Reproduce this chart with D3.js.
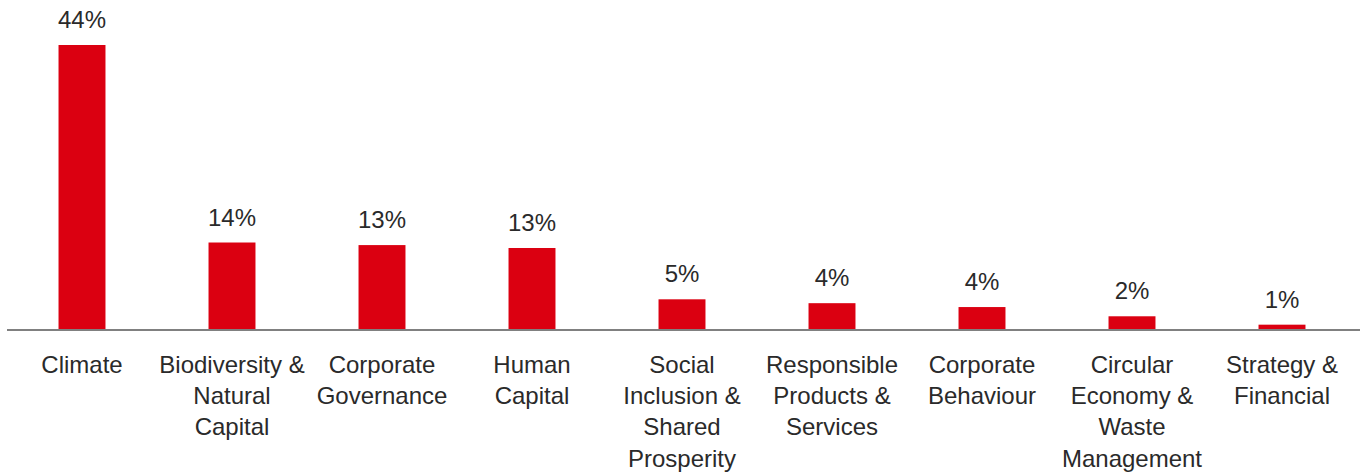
<!DOCTYPE html>
<html>
<head>
<meta charset="utf-8">
<script src="https://cdn.jsdelivr.net/npm/d3@7"></script>
<style>
  html, body { margin: 0; padding: 0; background: #fff; }
  svg { display: block; }
</style>
</head>
<body>
<div id="chart"></div>
<script>
const categories = [
  "Climate",
  "Biodiversity & Natural Capital",
  "Corporate Governance",
  "Human Capital",
  "Social Inclusion & Shared Prosperity",
  "Responsible Products & Services",
  "Corporate Behaviour",
  "Circular Economy & Waste Management",
  "Strategy & Financial"
];
const categoryLines = [
  ["Climate"],
  ["Biodiversity &", "Natural", "Capital"],
  ["Corporate", "Governance"],
  ["Human", "Capital"],
  ["Social", "Inclusion &", "Shared", "Prosperity"],
  ["Responsible", "Products &", "Services"],
  ["Corporate", "Behaviour"],
  ["Circular", "Economy &", "Waste", "Management"],
  ["Strategy &", "Financial"]
];
const values = [44, 13.4, 13.0, 12.55, 4.6, 4.0, 3.4, 1.97, 0.67];
const valueLabels = ["44%", "14%", "13%", "13%", "5%", "4%", "4%", "2%", "1%"];

const W = 1365, H = 473;
const baseY = 329;
const topY = 45;

const svg = d3.select("#chart").append("svg")
  .attr("width", W).attr("height", H);

const x = d3.scaleBand()
  .domain(categories)
  .range([7, 1357])
  .paddingInner(0.687)
  .paddingOuter(0.3435);

const y = d3.scaleLinear()
  .domain([0, 44])
  .range([baseY, topY]);

const font = "'Liberation Sans', Arial, sans-serif";

svg.selectAll("rect.bar")
  .data(categories)
  .join("rect")
  .attr("class", "bar")
  .attr("x", d => x(d))
  .attr("width", x.bandwidth())
  .attr("y", (d, i) => y(values[i]))
  .attr("height", (d, i) => baseY - y(values[i]))
  .attr("fill", "#DB0011");

// axis line
svg.append("line")
  .attr("x1", 7).attr("x2", 1360)
  .attr("y1", baseY + 1).attr("y2", baseY + 1)
  .attr("stroke", "#808080")
  .attr("stroke-width", 2);

// value labels
svg.selectAll("text.val")
  .data(categories)
  .join("text")
  .attr("class", "val")
  .attr("x", d => x(d) + x.bandwidth() / 2)
  .attr("y", (d, i) => y(values[i]) - 17)
  .attr("text-anchor", "middle")
  .attr("font-family", font)
  .attr("font-size", 24)
  .attr("fill", "#2a2a2a")
  .text((d, i) => valueLabels[i]);

// category labels
const cat = svg.selectAll("text.cat")
  .data(categories)
  .join("text")
  .attr("class", "cat")
  .attr("text-anchor", "middle")
  .attr("font-family", font)
  .attr("font-size", 24)
  .attr("fill", "#2a2a2a");

cat.each(function(d, i) {
  const t = d3.select(this);
  categoryLines[i].forEach((line, j) => {
    t.append("tspan")
      .attr("x", x(d) + x.bandwidth() / 2)
      .attr("y", 373 + j * 31.2)
      .text(line);
  });
});
</script>
</body>
</html>
